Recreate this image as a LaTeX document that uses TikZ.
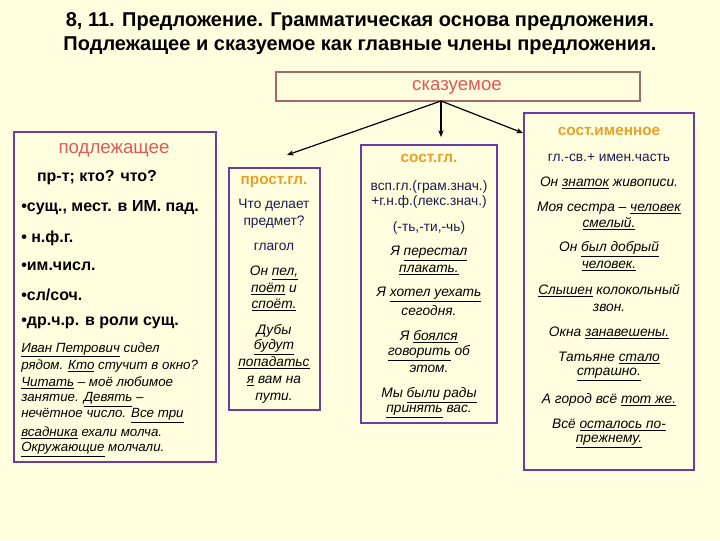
\documentclass[tikz,border=0pt]{standalone}
\usepackage{fontspec}
\setmainfont{Liberation Sans}
\usetikzlibrary{fit,arrows.meta}
\definecolor{bg}{HTML}{FFFFE0}
\definecolor{frame}{HTML}{6A3CA8}
\definecolor{sframe}{HTML}{A06A6A}
\definecolor{redt}{HTML}{E05858}
\definecolor{oran}{HTML}{E8A028}
\definecolor{navy}{HTML}{1A1A50}
\newcounter{lnc}
\newcommand{\tl}[4][]{\stepcounter{lnc}\node[txt,#1] (t\thelnc) at (#2,#3) {#4};}
\newcommand{\ul}[1]{\underline{#1}}
\begin{document}
\begin{tikzpicture}[x=0.75pt,y=-0.75pt,
  txt/.style={inner sep=0pt,font=\fontsize{10.3}{12}\selectfont,text=navy},
  it/.style={font=\fontsize{10.3}{12}\selectfont\itshape,text=black},
  pit/.style={font=\fontsize{10}{12}\selectfont\itshape,text=black,anchor=west},
  big/.style={font=\fontsize{12}{14}\selectfont\bfseries,text=black},
  hd/.style={font=\fontsize{11.5}{13}\selectfont\bfseries,text=oran},
  frm/.style={draw=frame,line width=0.8pt,inner sep=0pt},
  arr/.style={-{Stealth[length=5pt,width=4pt]},line width=0.9pt}]
\fill[bg] (0,0) rectangle (720,540);
\useasboundingbox (0,0) rectangle (720,540);
% title
\node[txt,font=\fontsize{15}{18}\selectfont\bfseries,text=black] (title1) at (360,22) {8, 11. Предложение. Грамматическая основа предложения.};
\node[txt,font=\fontsize{15}{18}\selectfont\bfseries,text=black] (title2) at (360,46) {Подлежащее и сказуемое как главные члены предложения.};
% boxes
\node[draw=sframe,line width=0.8pt,inner sep=0pt,fit={(276,72)(640,101)}] (skaz) {};
\node[txt,font=\fontsize{14}{16}\selectfont,text=redt] (skazt) at (457,87) {сказуемое};
\node[frm,fit={(14,132)(216,462)}] (pbox) {};
\node[frm,fit={(229,168)(320,410)}] (gbox) {};
\node[frm,fit={(361,145)(497,423)}] (sgbox) {};
\node[frm,fit={(524,113)(694,470)}] (sibox) {};
% arrows
\coordinate (a1) at (287,155);
\coordinate (a2) at (441,137);
\coordinate (a3) at (523,133);
\coordinate (s0) at (441,101);
\draw[arr] (s0) -- (a1);
\draw[arr] (s0) -- (a2);
\draw[arr] (s0) -- (a3);
% подлежащее
\tl[font=\fontsize{14}{16}\selectfont,text=redt]{114}{150}{подлежащее}
\tl[big]{97}{178}{пр-т; кто? что?}
\tl[big,anchor=west]{21}{208}{•сущ., мест. в ИМ. пад.}
\tl[big,anchor=west]{21}{238}{• н.ф.г.}
\tl[big,anchor=west]{21}{266}{•им.числ.}
\tl[big,anchor=west]{21}{295}{•сл/соч.}
\tl[big,anchor=west]{21}{323}{•др.ч.р. в роли сущ.}
\tl[pit]{21}{350}{\ul{Иван Петрович} сидел}
\tl[pit]{21}{366}{рядом. \ul{Кто} стучит в окно?}
\tl[pit]{21}{383}{\ul{Читать} – моё любимое}
\tl[pit]{21}{400}{занятие. \ul{Девять} –}
\tl[pit]{21}{416}{нечётное число. \ul{Все три}}
\tl[pit]{21}{433}{\ul{всадника} ехали молча.}
\tl[pit]{21}{450}{\ul{Окружающие} молчали.}
% прост.гл.
\tl[hd]{274}{182}{прост.гл.}
\tl{274}{205}{Что делает}
\tl{274}{222}{предмет?}
\tl{274}{247}{глагол}
\tl[it]{274}{273}{Он \ul{пел,}}
\tl[it]{274}{289}{\ul{поёт} и}
\tl[it]{274}{305}{\ul{споёт.}}
\tl[it]{274}{331}{Дубы}
\tl[it]{274}{347}{\ul{будут}}
\tl[it]{274}{363}{\ul{попадатьс}}
\tl[it]{274}{381}{\ul{я} вам на}
\tl[it]{274}{398}{пути.}
% сост.гл.
\tl[hd]{429}{158}{сост.гл.}
\tl{429}{187}{всп.гл.(грам.знач.)}
\tl{429}{202}{+г.н.ф.(лекс.знач.)}
\tl{429}{228}{(-ть,-ти,-чь)}
\tl[it]{429}{254}{Я \ul{перестал}}
\tl[it]{429}{270}{\ul{плакать.}}
\tl[it]{429}{295}{Я \ul{хотел уехать}}
\tl[it]{429}{311}{сегодня.}
\tl[it]{429}{337}{Я \ul{боялся}}
\tl[it]{429}{353}{\ul{говорить} об}
\tl[it]{429}{369}{этом.}
\tl[it]{429}{395}{Мы \ul{были рады}}
\tl[it]{429}{412}{\ul{принять} вас.}
% сост.именное
\tl[hd]{609}{131}{сост.именное}
\tl{609}{158}{гл.-св.+ имен.часть}
\tl[it]{609}{183}{Он \ul{знаток} живописи.}
\tl[it]{609}{208}{Моя сестра – \ul{человек}}
\tl[it]{609}{224}{\ul{смелый.}}
\tl[it]{609}{249}{Он \ul{был добрый}}
\tl[it]{609}{266}{\ul{человек.}}
\tl[it]{609}{291}{\ul{Слышен} колокольный}
\tl[it]{609}{308}{звон.}
\tl[it]{609}{333}{Окна \ul{занавешены.}}
\tl[it]{609}{358}{Татьяне \ul{стало}}
\tl[it]{609}{375}{\ul{страшно.}}
\tl[it]{609}{400}{А город всё \ul{тот же.}}
\tl[it]{609}{425}{Всё \ul{осталось по-}}
\tl[it]{609}{442}{\ul{прежнему.}}
\end{tikzpicture}
\end{document}
